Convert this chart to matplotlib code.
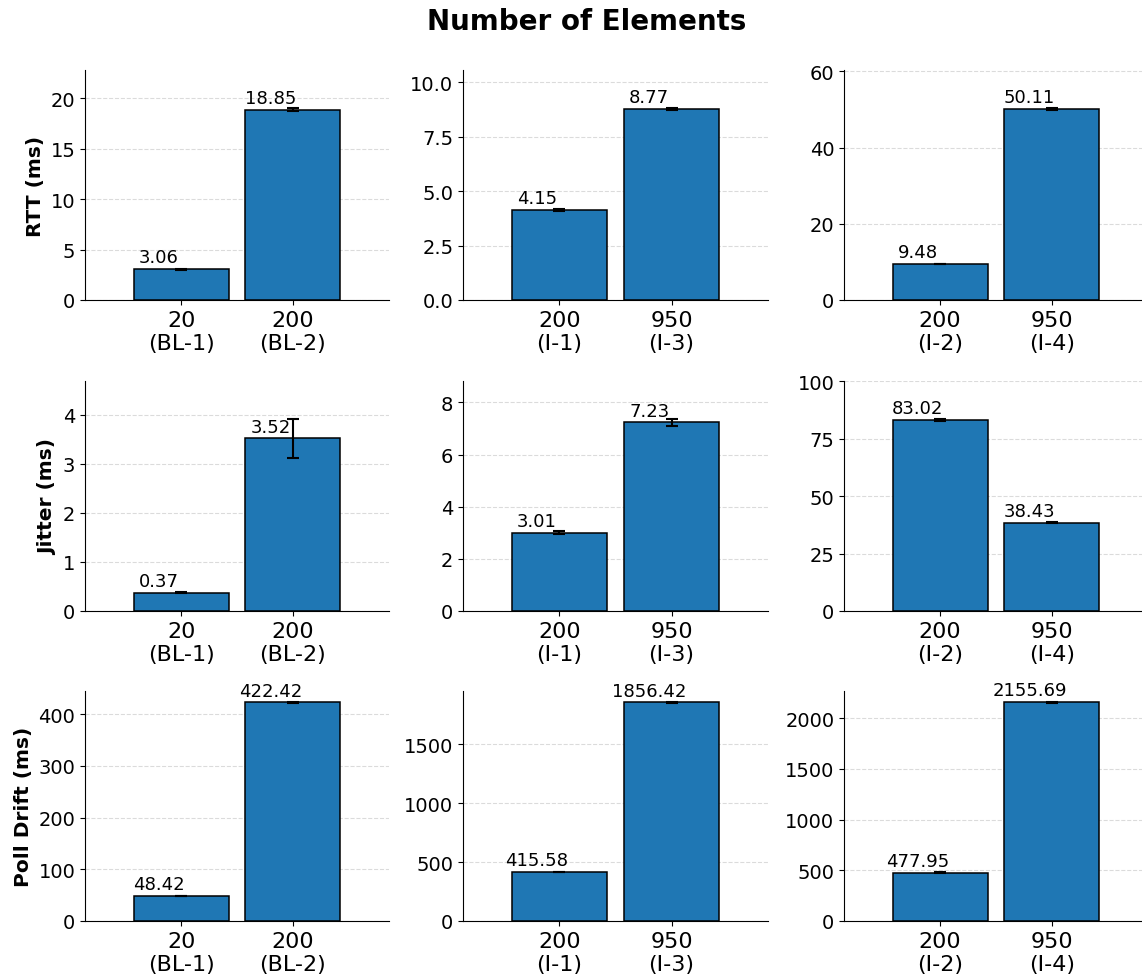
import numpy as np
import matplotlib
matplotlib.use("Agg")
from matplotlib import pyplot as plt

# configuration groups (one per column)
tick_labels = [["20\n(BL-1)", "200\n(BL-2)"],
               ["200\n(I-1)", "950\n(I-3)"],
               ["200\n(I-2)", "950\n(I-4)"]]

# mean values and error per metric, per column
rtt = [[3.06, 18.85], [4.15, 8.77], [9.48, 50.11]]
rtt_err = [[0.05, 0.15], [0.05, 0.03], [0.10, 0.20]]

jitter = [[0.37, 3.52], [3.01, 7.23], [83.02, 38.43]]
jitter_err = [[0.01, 0.39], [0.04, 0.12], [0.35, 0.20]]

drift = [[48.42, 422.42], [415.58, 1856.42], [477.95, 2155.69]]
drift_err = [[0.5, 1.0], [0.5, 3.0], [2.0, 3.0]]

metrics = [("RTT (ms)", rtt, rtt_err, 1.2),
           ("Jitter (ms)", jitter, jitter_err, 1.2),
           ("Poll Drift (ms)", drift, drift_err, None)]

W, H = 1142, 979
fig = plt.figure(figsize=(W / 100, H / 100), dpi=100)

col_px = [(85, 304), (463, 305), (844, 304)]
row_px = [(71, 301), (382, 612), (692, 922)]

fig.text(587 / W, 1 - 22 / H, "Number of Elements", fontsize=20, fontweight="bold",
         ha="center", va="center")

for r, (ylabel, vals, errs, top_factor) in enumerate(metrics):
    for c in range(3):
        x0, w = col_px[c]
        yt, yb = row_px[r]
        ax = fig.add_axes([x0 / W, 1 - yb / H, w / W, (yb - yt) / H])
        v = np.array(vals[c])
        e = np.array(errs[c])
        x = np.arange(len(v))
        ax.bar(x, v, width=0.85, color="#1f77b4", edgecolor="black", linewidth=1.1,
               yerr=e, capsize=4, error_kw=dict(elinewidth=1.5, capthick=1.5, ecolor="black"),
               zorder=2)
        for xi, vi in zip(x, v):
            ax.annotate(f"{vi:.2f}", (xi - 0.2, vi), xytext=(0, 2), textcoords="offset points",
                        ha="center", va="bottom", fontsize=13)
        ax.set_xticks(x)
        ax.set_xticklabels(tick_labels[c], fontsize=16)
        ax.tick_params(axis="y", labelsize=14)
        ax.set_xlim(-0.86, 1.86)
        if top_factor is not None:
            ax.set_ylim(0, (v + e).max() * top_factor)
        ax.grid(axis="y", linestyle="--", linewidth=0.8, color="lightgray", alpha=0.8)
        ax.set_axisbelow(True)
        ax.spines["top"].set_visible(False)
        ax.spines["right"].set_visible(False)
        if c == 0:
            ax.set_ylabel(ylabel, fontsize=14.5, fontweight="bold")

fig.savefig("out.png", dpi=100)
